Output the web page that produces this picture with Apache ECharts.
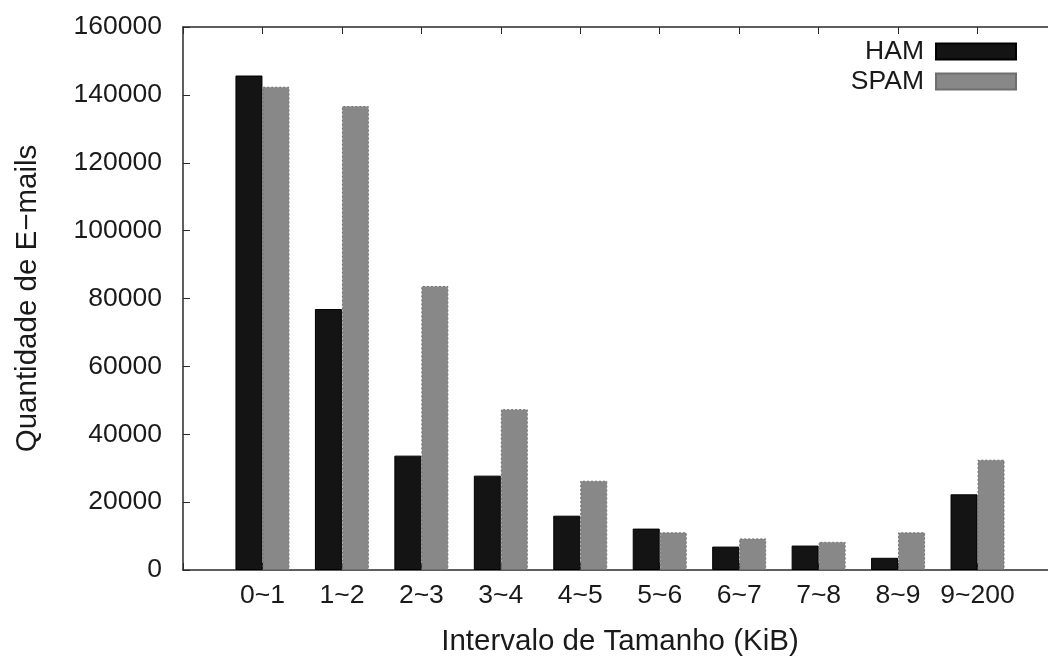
<!DOCTYPE html>
<html>
<head>
<meta charset="utf-8">
<script src="https://cdn.jsdelivr.net/npm/echarts@6/dist/echarts.min.js"></script>
<style>html,body{margin:0;padding:0;background:#fff;overflow:hidden}#c{width:1048px;height:657px}</style>
</head>
<body>
<div id="c"></div>
<script>
const categories = ['', '0~1', '1~2', '2~3', '3~4', '4~5', '5~6', '6~7', '7~8', '8~9', '9~200', ''];
const hamValues  = [null, 145700, 76900, 33700, 27800, 16000, 12200, 6900, 7200, 3600, 22300, null];
const spamValues = [null, 142400, 136700, 83700, 47400, 26300, 11100, 9300, 8300, 11100, 32500, null];
const yTicks = { min: 0, max: 160000, interval: 20000 };

const FONT = '"Liberation Sans", Arial, sans-serif';
const TXT = '#1a1a1a';
const LINE = '#2a2a2a';

const chart = echarts.init(document.getElementById('c'), null, { renderer: 'canvas' });
chart.setOption({
  animation: false,
  backgroundColor: '#fff',
  grid: { left: 183, top: 27, width: 874, height: 543, show: false, containLabel: false, outerBoundsMode: 'none' },
  legend: {
    orient: 'vertical', right: 26, top: 33, align: 'right',
    itemWidth: 80, itemHeight: 16, itemGap: 3, icon: 'rect',
    textStyle: { fontFamily: FONT, fontSize: 26.5, color: TXT, padding: [0, 7, 0, 0] },
    data: ['HAM', 'SPAM']
  },
  xAxis: [{
    type: 'category', data: categories, boundaryGap: false, position: 'bottom',
    axisLine: { lineStyle: { color: LINE, width: 1.5 } },
    axisTick: { show: true, inside: true, length: 7, lineStyle: { color: LINE } },
    axisLabel: { fontFamily: FONT, fontSize: 26.5, color: TXT, margin: 12, interval: 0 },
    splitLine: { show: false },
    name: 'Intervalo de Tamanho (KiB)', nameLocation: 'middle', nameGap: 57,
    nameTextStyle: { fontFamily: FONT, fontSize: 29.5, color: TXT }
  }, {
    type: 'category', data: categories, boundaryGap: false, position: 'top',
    axisLine: { lineStyle: { color: LINE, width: 1.5 } },
    axisTick: { show: true, inside: true, length: 7, lineStyle: { color: LINE } },
    axisLabel: { show: false }, splitLine: { show: false }
  }],
  yAxis: {
    type: 'value', min: yTicks.min, max: yTicks.max, interval: yTicks.interval,
    axisLine: { show: true, lineStyle: { color: LINE, width: 1.5 } },
    axisTick: { show: true, inside: true, length: 7, lineStyle: { color: LINE } },
    axisLabel: { fontFamily: FONT, fontSize: 26.5, color: TXT, margin: 21, formatter: v => String(v) },
    splitLine: { show: false },
    name: 'Quantidade de E\u2212mails', nameLocation: 'middle', nameGap: 140,
    nameTextStyle: { fontFamily: FONT, fontSize: 29.5, color: TXT }
  },
  series: [{
    name: 'HAM', type: 'bar', data: hamValues, barWidth: 27, barGap: '0%',
    itemStyle: { color: '#141414', borderColor: '#000', borderWidth: 1 }
  }, {
    name: 'SPAM', type: 'bar', data: spamValues, barWidth: 27, barGap: '0%',
    itemStyle: { color: '#888888', borderColor: '#6e6e6e', borderWidth: 1, borderType: [2, 2] }
  }]
});
</script>
</body>
</html>
